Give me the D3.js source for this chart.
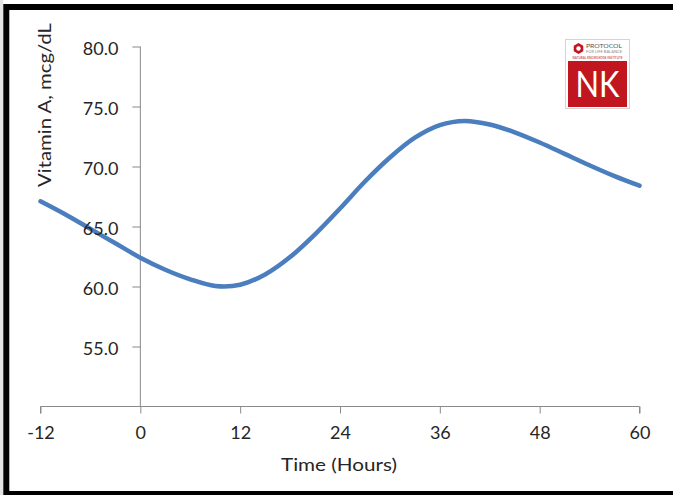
<!DOCTYPE html>
<html>
<head>
<meta charset="utf-8">
<script src="https://cdn.jsdelivr.net/npm/d3@7"></script>
<style>
  html, body { margin: 0; padding: 0; background: #fff; }
  svg { display: block; }
  text { font-family: Lato, "Open Sans", sans-serif; fill: #262626; }
</style>
</head>
<body>
<svg id="chart" width="673" height="495"></svg>
<script>
// ---- data ----
const hours = [-12, -9, -6, -3, 0, 3, 6, 9, 12, 15, 18, 21, 24, 27, 30, 33, 36, 39, 42, 45, 48, 51, 54, 57, 60];
const vitaminA = [67.1, 66.0, 64.8, 63.6, 62.4, 61.4, 60.6, 60.05, 60.15, 61.0, 62.45, 64.35, 66.5, 68.75, 70.75, 72.4, 73.45, 73.8, 73.5, 72.85, 72.0, 71.05, 70.1, 69.2, 68.4];
const xTicks = [-12, 0, 12, 24, 36, 48, 60];
const yTicks = [55, 60, 65, 70, 75, 80];
const xTitle = "Time (Hours)";
const yTitle = "Vitamin A, mcg/dL";

const svg = d3.select("#chart");
const FONT = "Lato, 'Open Sans', sans-serif";

// frame
svg.append("rect").attr("x", 0).attr("y", 0).attr("width", 673).attr("height", 495).attr("fill", "#fff");
svg.append("rect").attr("x", 0).attr("y", 0).attr("width", 3.3).attr("height", 495).attr("fill", "#e3e3e3");
svg.append("rect").attr("x", 6.3).attr("y", 7).attr("width", 720).attr("height", 487)
  .attr("fill", "none").attr("stroke", "#000").attr("stroke-width", 6);

const x = d3.scaleLinear().domain([-12, 60]).range([40.5, 639.5]);
const y = d3.scaleLinear().domain([50, 80]).range([406.5, 46.5]);

const axisColor = "#8a8a8a";

// x axis
const gx = svg.append("g").attr("transform", `translate(0,${y(50)})`)
  .call(d3.axisBottom(x).tickValues(xTicks).tickSize(7).tickPadding(13).tickFormat(d => String(d)));
gx.select(".domain").attr("stroke", axisColor).attr("d", `M${x(-12)},7V0H${x(60)}V7`);
gx.selectAll(".tick line").attr("stroke", axisColor);
gx.selectAll(".tick text").attr("font-size", 18).attr("fill", "#262626").attr("font-family", FONT);

// y axis (line + ticks)
const gy = svg.append("g").attr("transform", `translate(${x(0)},0)`)
  .call(d3.axisLeft(y).tickValues(yTicks).tickSize(8).tickFormat(""));
gy.select(".domain").attr("stroke", axisColor).attr("d", `M0,${y(80)}V${y(50)}`);
gy.selectAll(".tick line").attr("stroke", axisColor);

// curve
const line = d3.line().x((d, i) => x(hours[i])).y(d => y(d)).curve(d3.curveCatmullRom.alpha(0.5));
svg.append("path").datum(vitaminA)
  .attr("d", line)
  .attr("fill", "none")
  .attr("stroke", "#4a7ebf")
  .attr("stroke-width", 4.5)
  .attr("stroke-linecap", "round");

// y tick labels (above the curve)
const gyl = svg.append("g").attr("transform", `translate(${x(0)},0)`)
  .call(d3.axisLeft(y).tickValues(yTicks).tickSize(0).tickPadding(22).tickFormat(d3.format(".1f")));
gyl.select(".domain").remove();
gyl.selectAll(".tick text").attr("font-size", 18).attr("fill", "#262626")
  .attr("font-family", FONT).attr("dy", "0.45em");

// axis titles
svg.append("text").attr("x", 339).attr("y", 471).attr("text-anchor", "middle")
  .attr("font-size", 18).attr("textLength", 116).attr("lengthAdjust", "spacingAndGlyphs").text(xTitle);
svg.append("text").attr("transform", "translate(51,105) rotate(-90)").attr("text-anchor", "middle")
  .attr("font-size", 18).attr("textLength", 164).attr("lengthAdjust", "spacingAndGlyphs").text(yTitle);

// logo
const logo = svg.append("g");
logo.append("rect").attr("x", 565.5).attr("y", 39.5).attr("width", 64).attr("height", 69)
  .attr("fill", "#fff").attr("stroke", "#d4d4d4").attr("stroke-width", 1);
logo.append("rect").attr("x", 568).attr("y", 61).attr("width", 59).attr("height", 46).attr("fill", "#c1161f");
logo.append("text").attr("x", 597.5).attr("y", 97).attr("text-anchor", "middle")
  .attr("font-size", 36).attr("font-family", "'Open Sans', sans-serif")
  .attr("textLength", 44).attr("lengthAdjust", "spacingAndGlyphs")
  .style("fill", "#fff").text("NK");
const hex = d3.range(6).map(i => {
  const a = Math.PI / 6 + i * Math.PI / 3;
  return [578.5 + 5.5 * Math.cos(a), 48.5 + 5.5 * Math.sin(a)];
});
logo.append("polygon").attr("points", hex.map(p => p.join(",")).join(" ")).attr("fill", "#c1161f");
logo.append("circle").attr("cx", 578.5).attr("cy", 48.5).attr("r", 2.2).attr("fill", "#fff");
logo.append("text").attr("x", 586).attr("y", 48).attr("font-size", 6.5)
  .attr("textLength", 36).attr("lengthAdjust", "spacingAndGlyphs")
  .style("fill", "#555").text("PROTOCOL");
logo.append("text").attr("x", 586).attr("y", 53).attr("font-size", 3.5)
  .attr("textLength", 36).attr("lengthAdjust", "spacingAndGlyphs")
  .style("fill", "#888").text("FOR LIFE BALANCE");
logo.append("text").attr("x", 597.5).attr("y", 59).attr("text-anchor", "middle").attr("font-size", 4)
  .attr("textLength", 50).attr("lengthAdjust", "spacingAndGlyphs")
  .style("fill", "#c1161f").text("NATURAL KNOWLEDGE INSTITUTE");
</script>
</body>
</html>
